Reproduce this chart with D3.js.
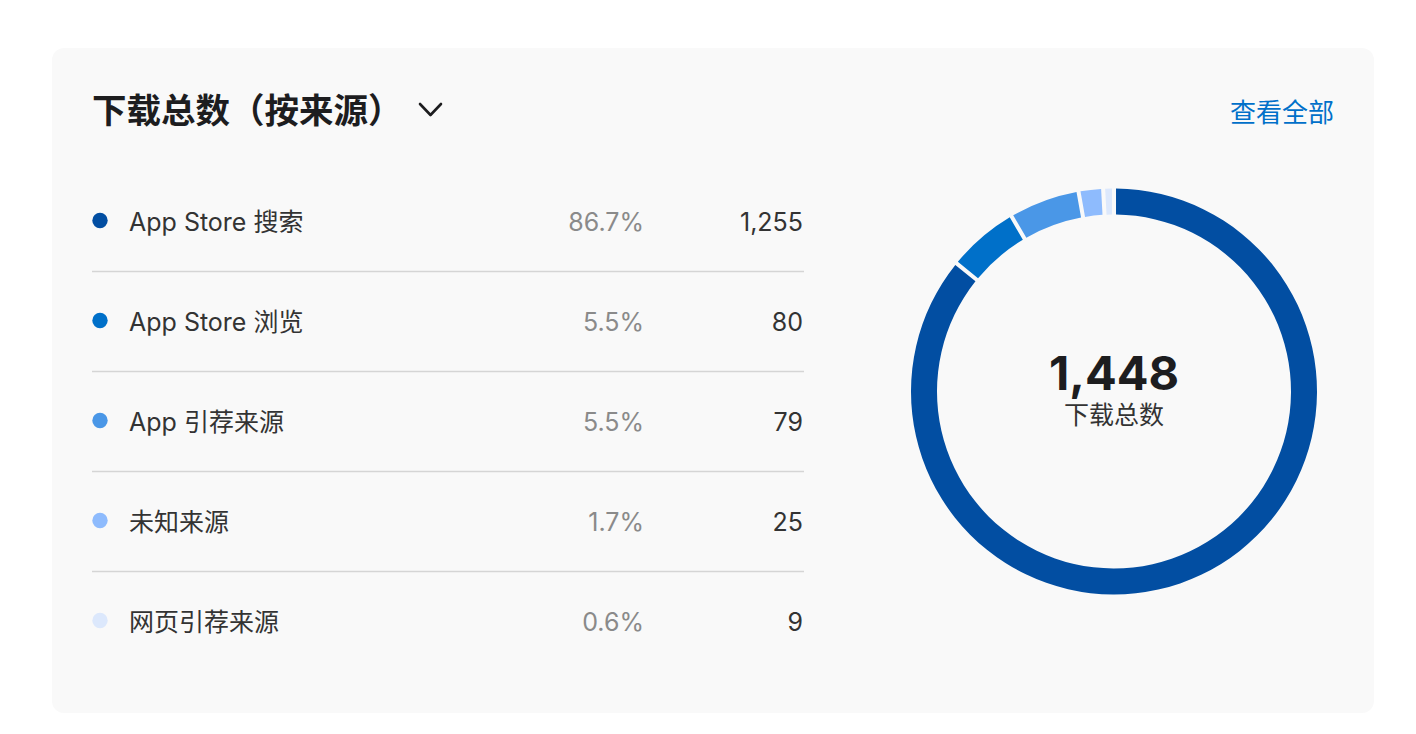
<!DOCTYPE html>
<html>
<head>
<meta charset="utf-8">
<script src="https://cdn.jsdelivr.net/npm/d3@7"></script>
<style>
  html, body { margin: 0; padding: 0; background: #ffffff; }
  svg { display: block; font-family: "Inter", "Noto Sans CJK SC", sans-serif; }
</style>
</head>
<body>
<svg id="chart"></svg>
<script>
// data
var sources = ["App Store 搜索", "App Store 浏览", "App 引荐来源", "未知来源", "网页引荐来源"];
var downloads = [1255, 80, 79, 25, 9];
var colors = ["#024ea2", "#0070c9", "#4a97e7", "#8ebbfd", "#dce8fc"];

var width = 1416, height = 734;
var svg = d3.select("#chart").attr("width", width).attr("height", height);

var total = d3.sum(downloads);
var fmtNum = d3.format(",");
var fmtPct = d3.format(".1%");

// card
svg.append("rect")
    .attr("x", 52).attr("y", 48)
    .attr("width", 1322).attr("height", 665)
    .attr("rx", 12)
    .attr("fill", "#f9f9f9");

// header
svg.append("text")
    .attr("x", 92).attr("y", 123)
    .attr("font-size", "34.5px")
    .attr("font-weight", "bold")
    .attr("fill", "#1d1d1f")
    .text("下载总数（按来源）");

svg.append("path")
    .attr("d", "M420,104 L430.5,115 L441,104")
    .attr("fill", "none")
    .attr("stroke", "#1d1d1f")
    .attr("stroke-width", 2.6)
    .attr("stroke-linecap", "round")
    .attr("stroke-linejoin", "round");

svg.append("text")
    .attr("x", 1334).attr("y", 122)
    .attr("text-anchor", "end")
    .attr("font-size", "26px")
    .attr("fill", "#0070c9")
    .text("查看全部");

// legend table
var rowY = d3.scalePoint()
    .domain(sources)
    .range([222, 622]);

var rows = svg.append("g").selectAll("g")
    .data(sources)
    .join("g")
    .attr("transform", function(d) { return "translate(0," + rowY(d) + ")"; });

rows.append("circle")
    .attr("cx", 100).attr("cy", -1.5).attr("r", 7.7)
    .attr("fill", function(d, i) { return colors[i]; });

rows.append("text")
    .attr("x", 129).attr("y", 0)
    .attr("dy", "0.35em")
    .attr("font-size", "25px")
    .attr("fill", "#333333")
    .text(function(d) { return d; });

rows.append("text")
    .attr("x", 644).attr("y", 0)
    .attr("dy", "0.35em")
    .attr("text-anchor", "end")
    .attr("font-size", "25px")
    .attr("fill", "#8a8a8a")
    .text(function(d, i) { return fmtPct(downloads[i] / total); });

rows.append("text")
    .attr("x", 803).attr("y", 0)
    .attr("dy", "0.35em")
    .attr("text-anchor", "end")
    .attr("font-size", "25px")
    .attr("fill", "#333333")
    .text(function(d, i) { return fmtNum(downloads[i]); });

rows.filter(function(d, i) { return i < sources.length - 1; })
    .append("line")
    .attr("x1", 92).attr("x2", 804)
    .attr("y1", 49.5).attr("y2", 49.5)
    .attr("stroke", "#d5d5d5")
    .attr("stroke-width", 1.6);

// donut
var cx = 1114, cy = 391.5;
var pie = d3.pie().sort(null).padAngle(0.015);
var arc = d3.arc().innerRadius(177).outerRadius(203);

var donut = svg.append("g").attr("transform", "translate(" + cx + "," + cy + ")");

donut.selectAll("path")
    .data(pie(downloads))
    .join("path")
    .attr("d", arc)
    .attr("fill", function(d, i) { return colors[i]; });

donut.append("text")
    .attr("x", 0).attr("y", -2)
    .attr("text-anchor", "middle")
    .attr("font-size", "47px")
    .attr("font-weight", "bold")
    .attr("fill", "#1d1d1f")
    .text(fmtNum(total));

donut.append("text")
    .attr("x", 0).attr("y", 32)
    .attr("text-anchor", "middle")
    .attr("font-size", "25px")
    .attr("fill", "#333333")
    .text("下载总数");
</script>
</body>
</html>
